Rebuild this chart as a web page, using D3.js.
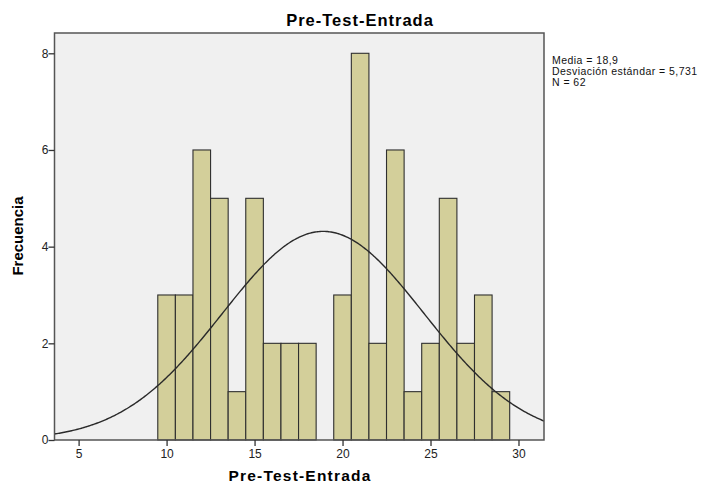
<!DOCTYPE html>
<html><head><meta charset="utf-8">
<script src="https://cdn.jsdelivr.net/npm/d3@7"></script>
<style>body{margin:0;background:#fff;} svg{display:block;}</style>
</head><body>
<svg id="c" width="715" height="483"></svg>
<script>
const binCenters = [10,11,12,13,14,15,16,17,18,19,20,21,22,23,24,25,26,27,28,29];
const counts     = [3, 3, 6, 5, 1, 5, 2, 2, 2, 0, 3, 8, 2, 6, 1, 2, 5, 2, 3, 1];
const xTicks = [5,10,15,20,25,30];
const yTicks = [0,2,4,6,8];
const mean = 18.9, sd = 5.731, n = 62, binWidth = 1;
const statsLines = ["Media = 18,9", "Desviación estándar = 5,731", "N = 62"];

const svg = d3.select("#c");
const L = 54.5, R = 544, T = 33, B = 440;
const x = d3.scaleLinear().domain([3.63, 31.45]).range([L, R]);
const y = d3.scaleLinear().domain([0, 8]).range([B, 53.3]);

svg.append("rect").attr("x", L).attr("y", T).attr("width", R-L).attr("height", B-T)
  .attr("fill", "#f0f0f0");

svg.append("g").selectAll("rect").data(binCenters.map((c,i)=>({c, v:counts[i]})).filter(d=>d.v>0))
  .join("rect")
  .attr("x", d => x(d.c - binWidth/2))
  .attr("width", d => x(d.c + binWidth/2) - x(d.c - binWidth/2))
  .attr("y", d => y(d.v))
  .attr("height", d => y(0) - y(d.v))
  .attr("fill", "#d3cf9a").attr("stroke", "#2f2f2f").attr("stroke-width", 1.1);

const pdf = v => n*binWidth/(sd*Math.sqrt(2*Math.PI))*Math.exp(-0.5*((v-mean)/sd)**2);
const xs = d3.range(0, 401).map(i => 3.63 + (31.45-3.63)*i/400);
svg.append("path").datum(xs)
  .attr("d", d3.line().x(v => x(v)).y(v => y(pdf(v))).curve(d3.curveLinear))
  .attr("fill", "none").attr("stroke", "#2a2a2a").attr("stroke-width", 1.4);

svg.append("rect").attr("x", L).attr("y", T).attr("width", R-L).attr("height", B-T)
  .attr("fill", "none").attr("stroke", "#555").attr("stroke-width", 1.5);

const xa = svg.append("g").attr("transform", `translate(0,${B})`)
  .call(d3.axisBottom(x).tickValues(xTicks).tickSize(6).tickSizeOuter(0).tickFormat(d3.format("d")));
xa.select(".domain").remove();
const ya = svg.append("g").attr("transform", `translate(${L},0)`)
  .call(d3.axisLeft(y).tickValues(yTicks).tickSize(6).tickSizeOuter(0).tickFormat(d3.format("d")));
ya.select(".domain").remove();
[xa, ya].forEach(g => {
  g.selectAll("line").attr("stroke", "#333").attr("stroke-width", 1.3);
  g.selectAll("text").attr("fill", "#222").style("font-family", "Liberation Sans, Arial, sans-serif").style("font-size", "12px");
});
ya.selectAll("text").attr("x", -6);
xa.selectAll("text").attr("y", 9);

svg.append("text").attr("x", 360).attr("y", 26).attr("text-anchor", "middle")
  .style("font-family", "Liberation Sans, Arial, sans-serif").style("font-weight", "bold").style("font-size", "16.5px")
  .style("letter-spacing", "1px")
  .text("Pre-Test-Entrada");
svg.append("text").attr("x", 300).attr("y", 481).attr("text-anchor", "middle")
  .style("font-family", "Liberation Sans, Arial, sans-serif").style("font-weight", "bold").style("font-size", "15.5px")
  .style("letter-spacing", "1.2px")
  .text("Pre-Test-Entrada");
svg.append("text").attr("transform", "translate(23,236) rotate(-90)").attr("text-anchor", "middle")
  .style("font-family", "Liberation Sans, Arial, sans-serif").style("font-weight", "bold").style("font-size", "15px")
  .text("Frecuencia");

svg.append("g").selectAll("text").data(statsLines).join("text")
  .attr("x", 552).attr("y", (d,i) => 64 + i*11)
  .style("font-family", "Liberation Sans, Arial, sans-serif").style("font-size", "10.5px")
  .style("letter-spacing", "0.45px").attr("fill", "#111")
  .text(d => d);
</script>
</body></html>
